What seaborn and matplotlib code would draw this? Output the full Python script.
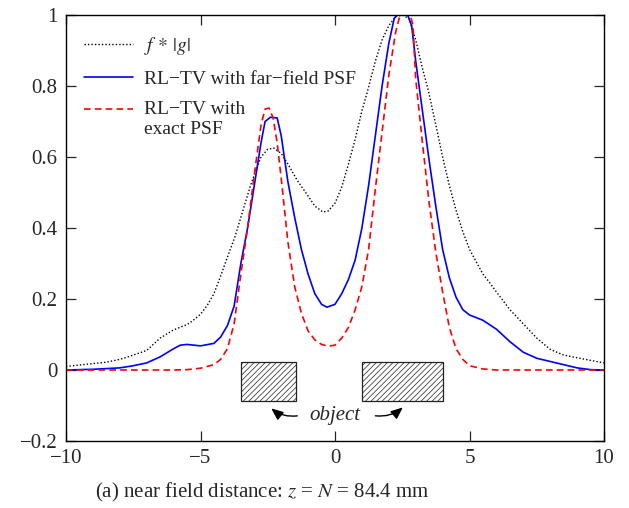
import numpy as np
import pandas as pd
import matplotlib
matplotlib.use("Agg")
import matplotlib.pyplot as plt
import seaborn as sns
from matplotlib.patches import Rectangle
from matplotlib.legend_handler import HandlerLine2D

# ---------------- data ----------------
conv_x = [-10, -9, -8.5, -8, -7.7, -7, -6.5, -6, -5.5, -5.3, -5, -4.75, -4.5, -4.25, -4.0,
          -3.72, -3.5, -3.16, -3.0, -2.75, -2.5, -2.27, -2.0, -1.75, -1.41, -1.0, -0.75,
          -0.45, -0.25, 0.0, 0.25, 0.5, 0.75, 1.0, 1.19, 1.5, 1.75, 2.0, 2.25, 2.5, 2.75,
          3.0, 3.25, 3.46, 3.75, 4.0, 4.25, 4.5, 4.75, 5.0, 5.5, 5.76, 6.0, 6.5, 7.0, 7.5,
          8.0, 8.5, 9.1, 10]
conv_y = [0.01, 0.018, 0.022, 0.03, 0.037, 0.055, 0.09, 0.113, 0.128, 0.138, 0.157, 0.182,
          0.215, 0.265, 0.318, 0.375, 0.43, 0.515, 0.55, 0.60, 0.622, 0.625, 0.61, 0.58,
          0.535, 0.49, 0.462, 0.445, 0.448, 0.47, 0.515, 0.58, 0.65, 0.73, 0.78, 0.87, 0.93,
          0.97, 0.995, 1.0, 0.99, 0.93, 0.85, 0.79, 0.69, 0.60, 0.52, 0.45, 0.39, 0.34,
          0.27, 0.245, 0.22, 0.17, 0.13, 0.09, 0.058, 0.042, 0.033, 0.02]

far_x = [-10, -9, -8, -7.5, -7, -6.5, -6, -5.75, -5.5, -5, -4.5, -4.25, -4, -3.75, -3.5,
         -3.25, -3.0, -2.75, -2.6, -2.4, -2.15, -2.0, -1.75, -1.5, -1.25, -1.0, -0.75,
         -0.5, -0.3, 0.0, 0.25, 0.5, 0.75, 1.0, 1.25, 1.5, 1.75, 2.0, 2.2, 2.3, 2.7, 2.85,
         3.0, 3.25, 3.5, 3.75, 4.0, 4.25, 4.5, 4.75, 5.0, 5.5, 6.0, 6.5, 7.0, 7.5, 8.0,
         8.5, 9.0, 9.5, 10]
far_y = [0.0, 0.002, 0.006, 0.012, 0.02, 0.037, 0.06, 0.07, 0.072, 0.068, 0.075, 0.093,
         0.125, 0.18, 0.30, 0.40, 0.52, 0.64, 0.70, 0.712, 0.71, 0.66, 0.53, 0.43, 0.34,
         0.27, 0.215, 0.185, 0.177, 0.185, 0.215, 0.255, 0.31, 0.40, 0.52, 0.66, 0.80,
         0.92, 0.99, 1.0, 1.0, 0.97, 0.87, 0.73, 0.59, 0.46, 0.34, 0.26, 0.205, 0.17,
         0.155, 0.14, 0.115, 0.08, 0.05, 0.033, 0.024, 0.015, 0.006, 0.001, 0.0]

exact_x = [-10, -6, -5.5, -5, -4.5, -4.25, -4, -3.75, -3.5, -3.25, -3.0, -2.75, -2.6,
           -2.45, -2.3, -2.15, -2.0, -1.75, -1.5, -1.25, -1.0, -0.75, -0.5, -0.25, 0.0,
           0.25, 0.5, 0.75, 1.0, 1.25, 1.5, 1.75, 2.0, 2.25, 2.4, 2.5, 2.8, 2.9, 3.0, 3.25,
           3.5, 3.75, 4.0, 4.25, 4.5, 4.75, 5.0, 5.5, 6.0, 10]
exact_y = [0.0, 0.0, 0.001, 0.005, 0.015, 0.03, 0.06, 0.13, 0.27, 0.40, 0.55, 0.69,
           0.735, 0.738, 0.71, 0.64, 0.54, 0.36, 0.235, 0.16, 0.11, 0.085, 0.072, 0.067,
           0.07, 0.09, 0.12, 0.17, 0.235, 0.34, 0.51, 0.67, 0.83, 0.95, 0.995, 1.0, 1.0,
           0.97, 0.82, 0.64, 0.47, 0.33, 0.22, 0.12, 0.06, 0.03, 0.012, 0.003, 0.0, 0.0]

labels = ["$f\\, *\\, |g|$", "RL\u2212TV with far\u2212field PSF", "RL\u2212TV with\nexact PSF"]
object_x = [(-3.5, -1.45), (1.0, 4.0)]
object_y = (-0.086, 0.022)
x_ticks = [-10, -5, 0, 5, 10]
y_ticks = [-0.2, 0, 0.2, 0.4, 0.6, 0.8, 1]
caption = "(a) near field distance: $z$ = $N$ = 84.4 mm"


class ShiftedLineHandler(HandlerLine2D):
    """Line handle shifted up so it sits beside the first line of a 2-line label."""
    def __init__(self, dy=0.0, **kw):
        super().__init__(**kw)
        self.dy = dy

    def create_artists(self, legend, orig_handle, xdescent, ydescent, width, height,
                       fontsize, trans):
        arts = super().create_artists(legend, orig_handle, xdescent, ydescent, width,
                                      height, fontsize, trans)
        for a in arts:
            a.set_ydata(np.asarray(a.get_ydata(), dtype=float) + self.dy * fontsize)
        return arts


# ---------------- style ----------------
sns.set_theme(style="ticks")
plt.rcParams["font.family"] = ["Liberation Serif", "DejaVu Serif"]
plt.rcParams["mathtext.fontset"] = "stix"
plt.rcParams["hatch.linewidth"] = 0.5
plt.rcParams["hatch.color"] = "#444444"

fig = plt.figure(figsize=(6.29, 5.08), dpi=100)
ax = fig.add_axes([66 / 629, 1 - 441 / 508, (604 - 66) / 629, (441 - 15) / 508])

sns.lineplot(x=conv_x, y=conv_y, ax=ax, color="black", lw=1.0,
             linestyle=(0, (1, 1.5)), label=labels[0])
sns.lineplot(x=far_x, y=far_y, ax=ax, color="#0000ff", lw=1.2,
             label=labels[1])
sns.lineplot(x=exact_x, y=exact_y, ax=ax, color="#ff0000", lw=1.2,
             linestyle=(0, (4, 2.5)), label=labels[2])

for x0, x1 in object_x:
    ax.add_patch(Rectangle((x0, object_y[0]), x1 - x0, object_y[1] - object_y[0],
                           facecolor="white", edgecolor="#222222", lw=0.9,
                           hatch="//////", zorder=3))

ax.text(0.0, -0.128, "object", ha="center", va="center", fontsize=15,
        style="italic")
ax.annotate("", xy=(-2.45, -0.103), xytext=(-1.3, -0.128),
            arrowprops=dict(arrowstyle="-|>,head_length=0.6,head_width=0.25",
                            color="black", lw=1.0,
                            connectionstyle="arc3,rad=-0.25"))
ax.annotate("", xy=(2.6, -0.1), xytext=(1.4, -0.128),
            arrowprops=dict(arrowstyle="-|>,head_length=0.6,head_width=0.25",
                            color="black", lw=1.0,
                            connectionstyle="arc3,rad=0.25"))

ax.set_xlim(-10, 10)
ax.set_ylim(-0.2, 1)
ax.set_xticks(x_ticks)
ax.set_xticklabels(["\u221210", "\u22125", "0", "5", "10"])
ax.set_yticks(y_ticks)
ax.set_yticklabels(["\u22120.2", "0", "0.2", "0.4", "0.6", "0.8", "1"])
ax.tick_params(direction="in", top=True, right=True, length=7, width=0.9,
               labelsize=15, pad=6)
for s in ax.spines.values():
    s.set_linewidth(1.0)
    s.set_color("black")
ax.set_xlabel("")
ax.set_ylabel("")

handles, labs = ax.get_legend_handles_labels()
leg = ax.legend(handles, labs, loc="upper left", frameon=False, fontsize=14,
                handlelength=2.55, handletextpad=0.55, labelspacing=0.68,
                borderaxespad=0.3, bbox_to_anchor=(0.008, 0.985),
                handler_map={handles[2]: ShiftedLineHandler(dy=0.5)})

fig.text(0.5 * (97 + 428) / 629, 1 - 492 / 508, caption, ha="center", va="center",
         fontsize=15)

fig.savefig("out.png", dpi=100)
